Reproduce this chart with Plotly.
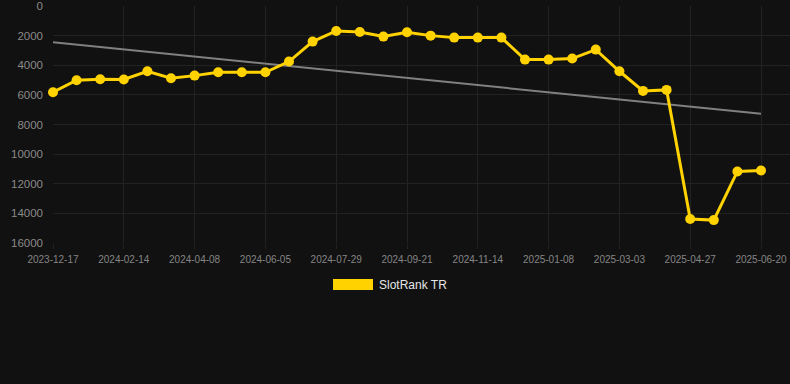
import numpy as np
import plotly.graph_objects as go

dates = [
    "2023-12-17", "2024-01-06", "2024-01-26", "2024-02-14", "2024-03-03", "2024-03-21",
    "2024-04-08", "2024-04-27", "2024-05-17", "2024-06-05", "2024-06-23", "2024-07-11",
    "2024-07-29", "2024-08-16", "2024-09-03", "2024-09-21", "2024-10-09", "2024-10-27",
    "2024-11-14", "2024-12-02", "2024-12-20", "2025-01-08", "2025-01-26", "2025-02-13",
    "2025-03-03", "2025-03-21", "2025-04-08", "2025-04-27", "2025-05-15", "2025-06-02",
    "2025-06-20",
]
ranks = [
    5820, 5010, 4945, 4965, 4405, 4880, 4700, 4475, 4475, 4475, 3750, 2405,
    1685, 1755, 2065, 1775, 2000, 2135, 2135, 2135, 3620, 3620, 3550, 2945,
    4405, 5730, 5665, 14385, 14455, 11170, 11105,
]
tick_labels = dates[::3]
y_ticks = [0, 2000, 4000, 6000, 8000, 10000, 12000, 14000, 16000]
series_name = "SlotRank TR"

idx = np.arange(len(dates))
slope, intercept = np.polyfit(idx, ranks, 1)
trend = slope * idx + intercept

BG = "#111111"
GRID = "#222222"
GOLD = "#FFD200"

# plot area: first point at x=53, last point at x=761, grid extends to 790
px_per_unit = (761 - 53) / (len(dates) - 1)
x_max = (790 - 53) / px_per_unit

fig = go.Figure()
fig.add_trace(go.Scatter(
    x=idx, y=trend, mode="lines",
    line=dict(color="#808080", width=2), showlegend=False, hoverinfo="skip",
    cliponaxis=False,
))
fig.add_trace(go.Scatter(
    x=idx, y=ranks, mode="lines+markers", name=series_name,
    line=dict(color=GOLD, width=3),
    marker=dict(color=GOLD, size=10),
    showlegend=False, cliponaxis=False,
    customdata=dates, hovertemplate="%{customdata}: %{y}<extra></extra>",
))

fig.update_layout(
    width=790, height=384,
    paper_bgcolor=BG, plot_bgcolor=BG,
    margin=dict(l=53, r=0, t=6, b=141),
    font=dict(family="Liberation Sans, Arial, sans-serif", color="#8a8a8a"),
    showlegend=False,
)
fig.update_xaxes(
    range=[0, x_max],
    tickmode="array", tickvals=idx[::3].tolist(), ticktext=tick_labels,
    tickfont=dict(size=10, color="#858585"),
    showgrid=True, gridcolor=GRID, gridwidth=1,
    ticks="outside", ticklen=5, tickcolor=GRID,
    ticklabelstandoff=2,
    zeroline=False, showline=False,
)
fig.update_yaxes(
    range=[16000, 0],
    tickmode="array", tickvals=y_ticks, ticktext=[str(v) for v in y_ticks],
    tickfont=dict(size=11.5, color="#8a8a8a"),
    showgrid=True, gridcolor=GRID, gridwidth=1,
    zeroline=False, showline=False,
    ticklabelstandoff=9,
)

# legend (rectangle swatch + label)
plot_w = 790 - 53
fig.add_shape(
    type="rect", xref="paper", yref="paper",
    x0=(333 - 53) / plot_w, x1=(373 - 53) / plot_w,
    y0=(243 - 290) / 237, y1=(243 - 279) / 237,
    fillcolor=GOLD, line=dict(width=0),
)
fig.add_annotation(
    xref="paper", yref="paper",
    x=(377 - 53) / plot_w, y=(243 - 284.5) / 237,
    xanchor="left", yanchor="middle", showarrow=False,
    text=series_name, font=dict(size=12, color="#e6e6e6"),
)

fig.write_html(
    "out.html",
    config={"displayModeBar": False},
    post_script="document.body.style.margin='0';document.body.style.background='#111111';",
)
